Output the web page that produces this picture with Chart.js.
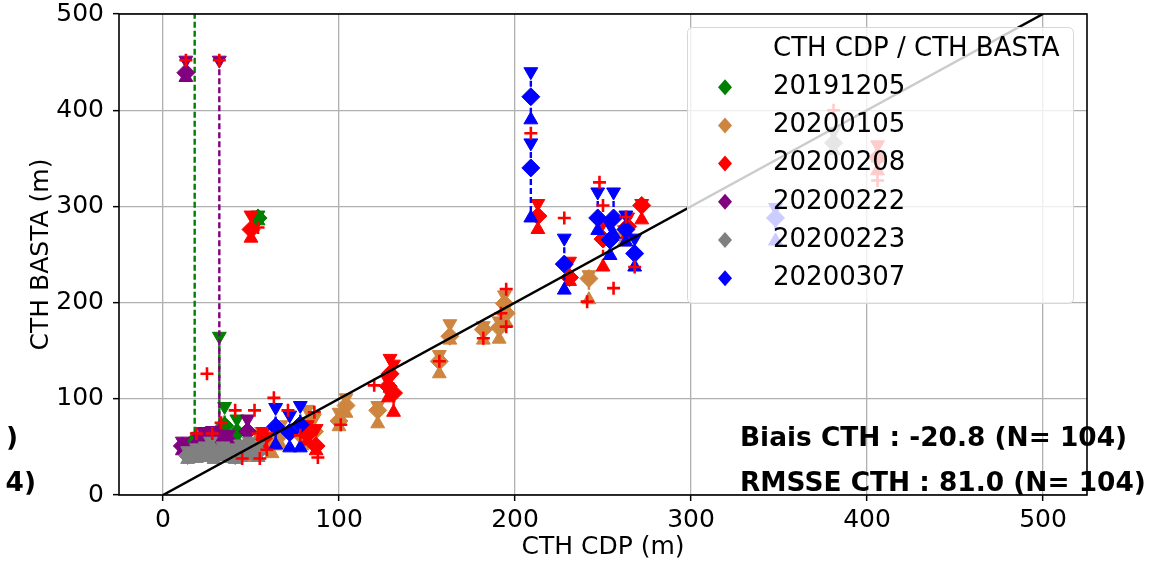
<!DOCTYPE html>
<html><head><meta charset="utf-8">
<script src="https://cdn.jsdelivr.net/npm/chart.js@4.4.1/dist/chart.umd.min.js"></script>
<style>html,body{margin:0;padding:0;background:#fff;}canvas{display:block;}</style>
</head><body>
<canvas id="c" width="1161" height="565"></canvas>
<script>
// ---------- data ----------
const seriesNames = ['20191205', '20200105', '20200208', '20200222', '20200223', '20200307'];
const seriesColors = ['green', 'peru', 'red', 'purple', 'gray', 'blue'];
// each row: [CTH CDP, CTH BASTA top, CTH BASTA median, CTH BASTA bottom]
const obs20191205 = [[18,520,57,49],[32,165,64,55],[35,92,72,60],[42,79,65,56],[28,62,57,51],[54,291,288,285]];
const obs20200105 = [[46,51,45,39],[54,63,50,39],[56,66,56,46],[62,63,53,43],[67,73,63,51],[79,71,61,51],[82,89,73,59],[86,80,66,53],[100,86,77,71],[104,101,93,85],[122,93,88,74],[157,146,139,126],[163,178,165,161],[182,176,172,161],[191,181,174,162],[194,208,199,191],[195,196,189,179],[242,229,225,203],[262,276,269,263]];
const obs20200208 = [[50,291,276,267],[87,69,51,46],[82,73,63,56],[129,142,126,111],[131,136,106,86],[128,119,113,101],[213,303,290,276],[231,243,226,222],[250,283,266,237],[264,289,279,271],[272,303,301,286],[406,364,351,337],[57,66,59,51]];
const obs20200222 = [[13,452,439,434],[32,452,61,50],[11,56,51,46],[23,66,59,51],[28,67,61,53],[37,63,56,49],[48,79,66,56],[20,61,53,46]];
const obs20200223 = [[14,46,41,37],[19,49,43,38],[24,51,45,39],[29,47,42,37],[34,51,46,40],[39,49,43,38],[44,53,46,39],[49,56,49,41],[54,51,45,39],[27,56,49,43],[41,46,41,37],[381,378,366,358]];
const obs20200307 = [[209,440,414,390],[209,366,340,288],[228,267,240,213],[247,315,288,275],[256,315,288,271],[254,281,265,249],[263,291,276,263],[268,267,251,237],[64,91,71,52],[72,83,65,49],[78,93,73,49],[348,299,288,264]];
const seriesObs = [obs20191205, obs20200105, obs20200208, obs20200222, obs20200223, obs20200307];
// red crosses
const crossX = [25,41,52,63,71,33,28,19,54,59,78,45,55,59,86,88,120,101,157,182,195,192,195,209,228,248,250,256,241,263,268,54,381,406,406,13,32];
const crossY = [126,88,88,101,88,75,64,64,64,64,62,38,38,47,86,39,114,73,139,163,175,189,214,376,288,325,301,215,201,289,237,278,400,327,347,452,452];
// 1:1 line
const refX = [0, 500];
const refY = [0, 500];
const xTicks = [0, 100, 200, 300, 400, 500];
const yTicks = [0, 100, 200, 300, 400, 500];
const legendTitle = 'CTH CDP / CTH BASTA';
const statLines = ['Biais CTH : -20.8 (N= 104)', 'RMSSE CTH : 81.0 (N= 104)'];
const clippedLeft = [')', '4)'];

// ---------- datasets ----------
const FONT = 'DejaVu Sans';
const datasets = [];
seriesObs.forEach((obs, i) => {
  const col = seriesColors[i];
  const segs = [];
  obs.forEach(o => { segs.push({x:o[0], y:o[1]}, {x:o[0], y:o[3]}, {x:o[0], y:null}); });
  datasets.push({label: seriesNames[i] + ' range', data: segs, showLine: true, spanGaps: false,
    borderColor: col, borderWidth: 2.4, borderDash: [6, 3], pointRadius: 0, fill: false});
  datasets.push({label: seriesNames[i] + ' bottom', data: obs.map(o => ({x:o[0], y:o[3]})),
    pointStyle: 'triangle', pointRadius: 8, backgroundColor: col, borderColor: col, borderWidth: 1});
  datasets.push({label: seriesNames[i] + ' top', data: obs.map(o => ({x:o[0], y:o[1]})),
    pointStyle: 'triangle', rotation: 180, pointRadius: 8, backgroundColor: col, borderColor: col, borderWidth: 1});
  datasets.push({label: seriesNames[i], data: obs.map(o => ({x:o[0], y:o[2]})),
    pointStyle: 'rectRot', pointRadius: 9, backgroundColor: col, borderColor: col, borderWidth: 1});
});
datasets.push({label: 'cross', data: crossX.map((x, k) => ({x, y: crossY[k]})),
  pointStyle: 'cross', pointRadius: 6.5, borderColor: 'red', backgroundColor: 'red', borderWidth: 2.6});
datasets.push({label: '1:1', data: refX.map((x, k) => ({x, y: refY[k]})), showLine: true,
  borderColor: '#000', borderWidth: 2.5, pointRadius: 0});
datasets.forEach((d, k) => { d.order = -k; });

// ---------- overlay: spines, legend, texts ----------
const overlay = {
  id: 'overlay',
  afterDatasetsDraw(chart) {
    const {ctx, chartArea: a} = chart;
    ctx.save();
    ctx.strokeStyle = '#000';
    ctx.lineWidth = 1.6;
    ctx.strokeRect(a.left, a.top, a.right - a.left, a.bottom - a.top);

    // legend box
    const lx = 687, ly = 27, lw = 386, lh = 276;
    ctx.beginPath();
    ctx.roundRect(lx + 0.5, ly + 0.5, lw, lh, 5);
    ctx.fillStyle = 'rgba(255,255,255,0.8)';
    ctx.fill();
    ctx.strokeStyle = '#d6d6d6';
    ctx.lineWidth = 1;
    ctx.stroke();
    ctx.font = '26px "' + FONT + '"';
    ctx.fillStyle = '#000';
    ctx.textAlign = 'left';
    ctx.textBaseline = 'middle';
    const rowY0 = 49, rowDY = 38.2, textX = 773, markX = 725;
    ctx.fillText(legendTitle, textX, rowY0);
    seriesNames.forEach((name, i) => {
      const y = rowY0 + rowDY * (i + 1);
      ctx.fillStyle = seriesColors[i];
      ctx.beginPath();
      ctx.moveTo(markX, y - 8); ctx.lineTo(markX + 7, y); ctx.lineTo(markX, y + 8); ctx.lineTo(markX - 7, y);
      ctx.closePath(); ctx.fill();
      ctx.fillStyle = '#000';
      ctx.fillText(name, textX, y);
    });

    // statistics texts
    ctx.font = 'bold 26.4px "' + FONT + '"';
    ctx.textBaseline = 'alphabetic';
    ctx.fillStyle = '#000';
    ctx.fillText(statLines[0], 740, 446);
    ctx.fillText(statLines[1], 740, 491);
    ctx.textAlign = 'right';
    ctx.fillText(clippedLeft[0], 18, 446);
    ctx.fillText(clippedLeft[1], 36, 491);
    ctx.restore();
  }
};

const tickFont = {family: FONT, size: 25};
new Chart(document.getElementById('c'), {
  type: 'scatter',
  data: {datasets},
  options: {
    responsive: false,
    animation: false,
    events: [],
    layout: {padding: {left: 0, top: 14, right: 74, bottom: 0}},
    plugins: {legend: {display: false}, tooltip: {enabled: false}},
    scales: {
      x: {
        type: 'linear', min: -25, max: 525, position: 'bottom',
        afterBuildTicks: s => { s.ticks = xTicks.map(v => ({value: v})); },
        afterFit: s => { s.height = 70; s.paddingLeft = 0; s.paddingRight = 0; },
        grid: {color: '#b0b0b0', lineWidth: 1.3, drawTicks: true, tickLength: 6, tickColor: '#000', tickWidth: 1.5},
        border: {display: false},
        ticks: {font: tickFont, color: '#000', padding: 4, maxRotation: 0, autoSkip: false, callback: v => String(v)},
        title: {display: true, text: 'CTH CDP (m)', font: tickFont, color: '#000', padding: {top: 0, bottom: 3}}
      },
      y: {
        type: 'linear', min: 0, max: 500, position: 'left',
        afterBuildTicks: s => { s.ticks = yTicks.map(v => ({value: v})); },
        afterFit: s => { s.width = 119; s.paddingTop = 0; s.paddingBottom = 0; },
        grid: {color: '#b0b0b0', lineWidth: 1.3, drawTicks: true, tickLength: 6, tickColor: '#000', tickWidth: 1.5},
        border: {display: false},
        ticks: {font: tickFont, color: '#000', padding: 9, autoSkip: false, callback: v => String(v)},
        title: {display: true, text: 'CTH BASTA (m)', font: tickFont, color: '#000', padding: {top: 26, bottom: 0}}
      }
    }
  },
  plugins: [overlay]
});
</script>
</body></html>
